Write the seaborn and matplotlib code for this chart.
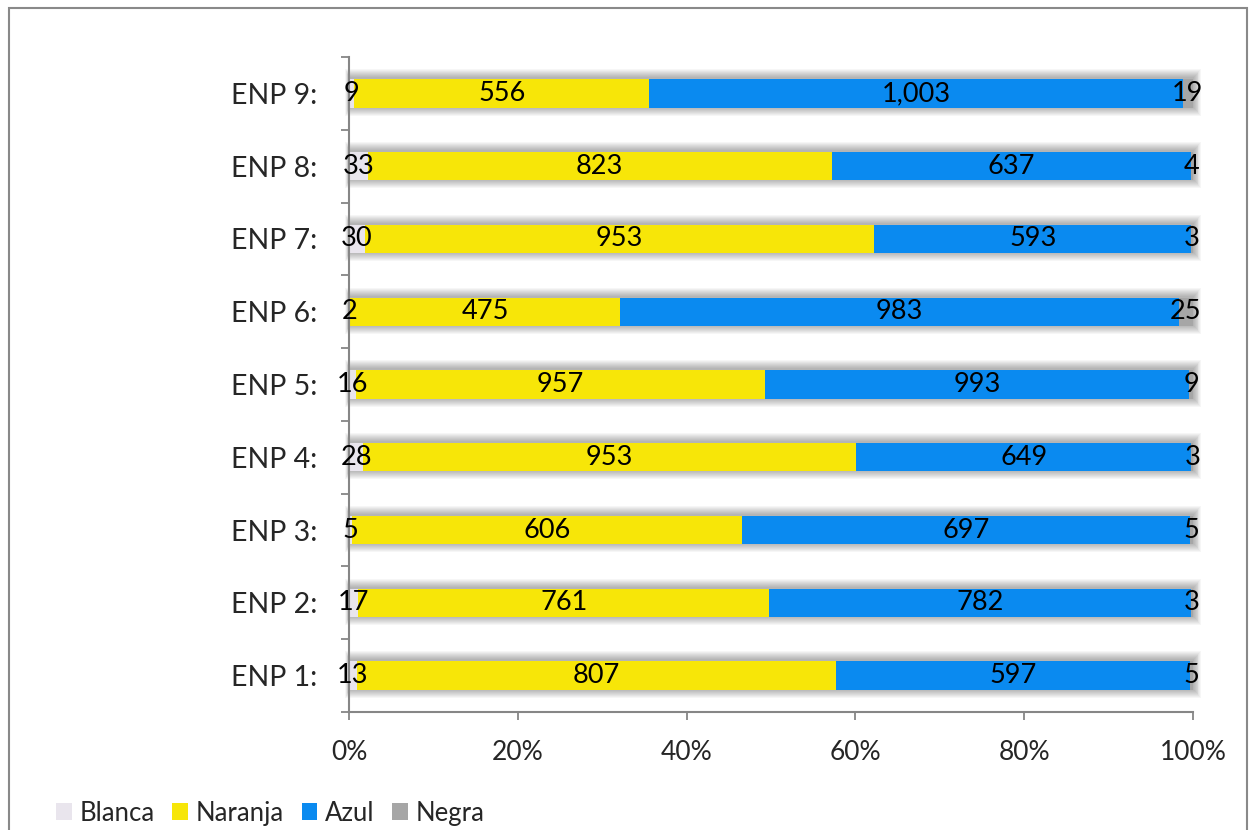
import matplotlib
matplotlib.use("Agg")
import matplotlib.pyplot as plt
import seaborn as sns
import pandas as pd
import numpy as np
from matplotlib.patches import Rectangle, Patch

# ---- data ----
categories = ["ENP 1:", "ENP 2:", "ENP 3:", "ENP 4:", "ENP 5:",
              "ENP 6:", "ENP 7:", "ENP 8:", "ENP 9:"]
blanca = [13, 17, 5, 28, 16, 2, 30, 33, 9]
naranja = [807, 761, 606, 953, 957, 475, 953, 823, 556]
azul = [597, 782, 697, 649, 993, 983, 593, 637, 1003]
negra = [5, 3, 5, 3, 9, 25, 3, 4, 19]
series_names = ["Blanca", "Naranja", "Azul", "Negra"]
x_ticks = [0, 20, 40, 60, 80, 100]
x_tick_labels = ["0%", "20%", "40%", "60%", "80%", "100%"]

colors = {"Blanca": "#e9e5ed", "Naranja": "#f7e608",
          "Azul": "#0a8af0", "Negra": "#a6a6a6"}

sns.set_theme(style="white")
plt.rcParams["font.family"] = ["Lato", "DejaVu Sans"]

W, H = 1249, 830
df = pd.DataFrame({"Blanca": blanca, "Naranja": naranja,
                   "Azul": azul, "Negra": negra}, index=categories)
pct = df.div(df.sum(axis=1), axis=0) * 100
cum = pct.cumsum(axis=1)
cum_df = cum.reset_index().rename(columns={"index": "cat"})
order = categories[::-1]  # ENP 9 on top

fig = plt.figure(figsize=(W / 100, H / 100), dpi=100)
ax_l, ax_r, ax_t, ax_b = 349, 1193, 57, 712
ax = fig.add_axes([ax_l / W, 1 - ax_b / H, (ax_r - ax_l) / W, (ax_b - ax_t) / H])

bar_w = 0.39
for name in series_names[::-1]:
    sns.barplot(data=cum_df, x=name, y="cat", order=order, orient="h",
                color=colors[name], saturation=1, width=bar_w,
                linewidth=0, ax=ax, zorder=2)

ax.set_xlim(0, 100)
ax.set_ylim(len(order) - 0.5, -0.5)

# soft drop shadow behind each bar
px_x = (ax_r - ax_l) / 100.0
px_y = (ax_b - ax_t) / len(order)
for i, cat in enumerate(order):
    for k in range(1, 10):
        dx, dy = k / px_x, k / px_y
        ax.add_patch(Rectangle((-dx * 0.4, i - bar_w / 2 - dy - 1 / px_y),
                               100 + dx * 1.3, bar_w + 2 * dy,
                               facecolor="black", edgecolor="none",
                               alpha=0.035, zorder=1, clip_on=False))

# data labels
for i, cat in enumerate(order):
    for name in series_names:
        v = df.loc[cat, name]
        xc = cum.loc[cat, name] - pct.loc[cat, name] / 2
        ax.text(xc, i, f"{v:,}", ha="center", va="center",
                fontsize=19.5, color="black", zorder=5)

# axes styling
ax.set_xlabel("")
ax.set_ylabel("")
ax.set_xticks(x_ticks)
ax.set_xticklabels(x_tick_labels, fontsize=19)
ax.set_yticks(range(len(order)))
ax.set_yticklabels(order, fontsize=20.5)
ax.set_yticks(np.arange(-0.5, len(order), 1), minor=True)
ax.tick_params(axis="y", which="major", length=0, pad=23)
ax.tick_params(axis="y", which="minor", length=6, width=1.3,
               color="#868686", direction="out", left=True)
ax.tick_params(axis="x", which="major", length=6, width=1.3,
               color="#868686", direction="out", bottom=True, pad=14)
for s in ["top", "right"]:
    ax.spines[s].set_visible(False)
for s in ["left", "bottom"]:
    ax.spines[s].set_color("#868686")
    ax.spines[s].set_linewidth(1.5)
    ax.spines[s].set_zorder(3)
ax.set_facecolor("none")

# legend
handles = [Patch(facecolor=colors[n], edgecolor="none") for n in series_names]
fig.legend(handles, series_names, loc="center left",
           bbox_to_anchor=(0.045, 1 - 813 / H), ncol=4, frameon=False,
           fontsize=18.5, handlelength=0.6, handleheight=0.6,
           handletextpad=0.3, columnspacing=0.7, borderaxespad=0, borderpad=0)

# outer frame
fig.patches.append(Rectangle((9 / W, -0.1), (1247 - 9) / W, 1 - 8 / H + 0.1,
                             transform=fig.transFigure, fill=False,
                             edgecolor="#898989", linewidth=1.5))

fig.savefig("out.png", dpi=100)
